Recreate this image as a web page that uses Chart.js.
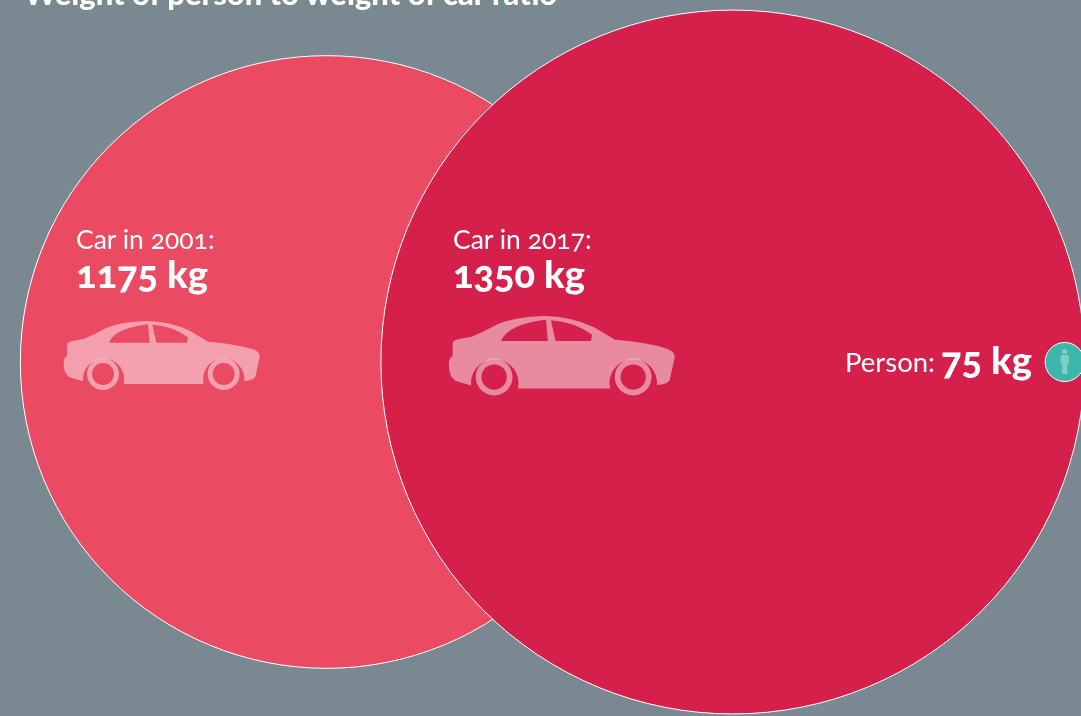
<!DOCTYPE html>
<html>
<head>
<meta charset="utf-8">
<script src="https://cdn.jsdelivr.net/npm/chart.js@4/dist/chart.umd.min.js"></script>
<style>
html,body{margin:0;padding:0;background:#7a8892;overflow:hidden;width:1081px;height:716px}
#wrap{position:relative;width:1081px;height:716px;overflow:hidden}
canvas{position:absolute;left:0;top:0}
.t{position:absolute;color:#fff;white-space:nowrap;font-family:Lato,"Open Sans",sans-serif;font-variant-numeric:oldstyle-nums;line-height:1;transform:translateY(-100%)}
</style>
</head>
<body>
<div id="wrap"><canvas id="c" width="1081" height="716"></canvas></div>
<script>
const titleText = "Weight of person to weight of car ratio";
const categories = ["Car in 2001", "Car in 2017", "Person"];
const weightsKg = [1175, 1350, 75];
const axisPositions = [1253, 2811, 4084];
const rowPositions = [0, 0, 0];
const unit = "kg";

const PX_PER_KG = 0.2607;
const fills = ["#ea4a62", "#d4204a", "#3db6ac"];

const bodyPath = new Path2D(
  "M52 372 Q55 365 72 362 L102 357 Q135 343 170 324 Q215 305 290 303 Q360 304 420 332 L475 365 " +
  "Q560 372 610 388 Q632 396 630 412 L617 470 Q612 480 584 483 " +
  "A62 62 0 1 0 462 492 L222 492 A62 62 0 1 0 100 484 L60 472 Q42 462 42 430 Q42 412 52 408 Z " +
  "M178 368 Q195 325 295 313 L300 368 Z M308 314 Q370 318 415 352 L412 368 L320 368 Z");
const wheelPath = new Path2D();
[[160, 462], [522, 462]].forEach(([x, y]) => {
  wheelPath.moveTo(x + 48, y); wheelPath.arc(x, y, 48, 0, Math.PI * 2);
  wheelPath.moveTo(x + 33, y); wheelPath.arc(x, y, 33, 0, Math.PI * 2);
});

function addText(str, x, base, size, weight) {
  const s = document.createElement("span");
  s.className = "t";
  s.textContent = str;
  s.style.left = x + "px";
  s.style.top = (base + size * 0.22) + "px";
  s.style.fontSize = size + "px";
  s.style.fontWeight = weight;
  document.getElementById("wrap").appendChild(s);
}

function drawCar(ctx, x, y, s) {
  ctx.save();
  ctx.translate(x, y);
  ctx.scale(s, s);
  ctx.translate(-42, -303);
  ctx.fillStyle = "rgba(255,255,255,0.48)";
  ctx.fill(bodyPath, "evenodd");
  ctx.fill(wheelPath, "evenodd");
  ctx.restore();
}

function drawPerson(ctx, cx, cy) {
  ctx.save();
  ctx.fillStyle = "rgba(255,255,255,0.35)";
  ctx.beginPath(); ctx.arc(cx, cy - 10.5, 2.6, 0, Math.PI * 2); ctx.fill();
  ctx.fillRect(cx - 4, cy - 7, 8, 9);
  ctx.fillRect(cx - 2.6, cy + 2, 5.2, 10);
  ctx.restore();
}

const overlay = {
  id: "overlay",
  afterDatasetsDraw(chart) {
    const ctx = chart.ctx, pts = chart.getDatasetMeta(0).data;
    drawCar(ctx, pts[0].x - 263, 321, 1 / 3);
    drawCar(ctx, pts[1].x - 284, 316, 0.384);
    drawPerson(ctx, pts[2].x, pts[2].y);
  }
};

new Chart(document.getElementById("c"), {
  type: "bubble",
  data: {
    labels: categories,
    datasets: [{
      label: "Weight (kg)",
      data: weightsKg.map((w, i) => ({ x: axisPositions[i], y: rowPositions[i], r: w * PX_PER_KG })),
      backgroundColor: fills,
      hoverBackgroundColor: fills,
      borderColor: "#ffffff",
      hoverBorderColor: "#ffffff",
      borderWidth: 1,
      hoverBorderWidth: 1,
      clip: false
    }]
  },
  options: {
    responsive: false,
    animation: false,
    layout: { padding: 0, autoPadding: false },
    plugins: { legend: { display: false }, title: { display: false }, tooltip: { enabled: false } },
    scales: {
      x: { type: "linear", display: false, min: 0, max: 1081 / PX_PER_KG },
      y: { type: "linear", display: false, min: -354, max: 362 }
    }
  },
  plugins: [overlay]
});

addText(titleText, 24, 3, 30.9, 900);
const labelX = [76, 453];
[0, 1].forEach(i => {
  addText(categories[i] + ":", labelX[i], 246, 26.5, 400);
  addText(weightsKg[i] + " " + unit, labelX[i], 284, 38, 900);
});
addText(categories[2] + ":", 845, 369, 27.5, 400);
addText(weightsKg[2] + " " + unit, 941, 370, 38, 900);
</script>
</body>
</html>
